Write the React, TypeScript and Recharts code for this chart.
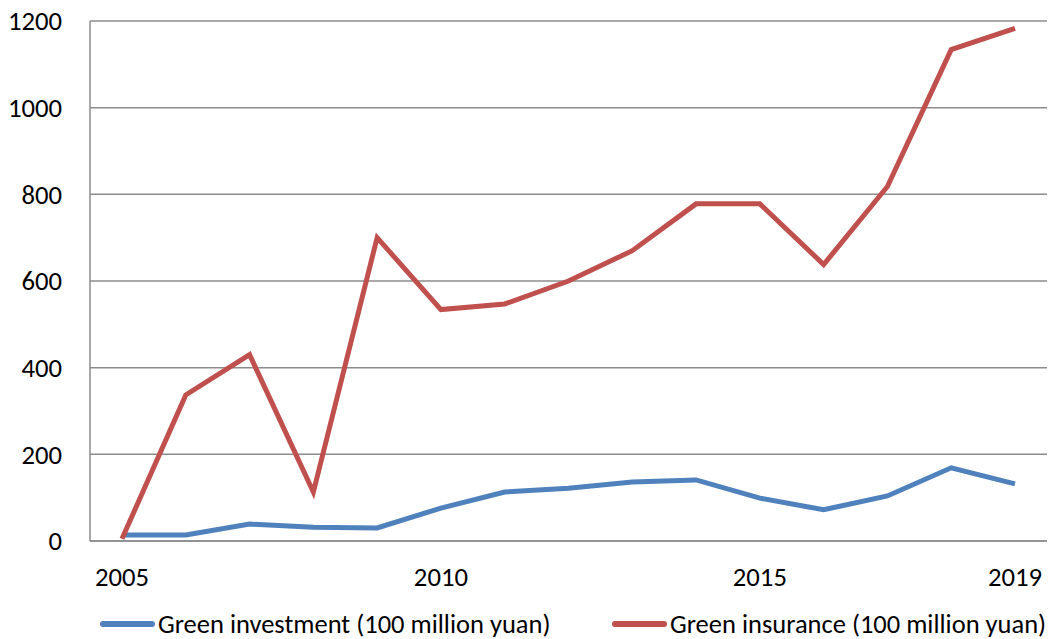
import { LineChart, Line, XAxis, YAxis, CartesianGrid } from "recharts"

const years = [2005, 2006, 2007, 2008, 2009, 2010, 2011, 2012, 2013, 2014, 2015, 2016, 2017, 2018, 2019]
const investment = [14, 14, 39, 32, 30, 76, 113, 122, 136, 141, 99, 72, 104, 169, 132]
const insurance = [5, 337, 430, 113, 700, 534, 547, 600, 670, 778, 778, 638, 818, 1134, 1183]
const yTicks = [0, 200, 400, 600, 800, 1000, 1200]
const shownYears = [2005, 2010, 2015, 2019]

const data = years.map((y, i) => ({ year: y, inv: investment[i], ins: insurance[i] }))

const series = [
  { key: "inv", name: "Green investment (100 million yuan)", color: "#4F81BD", legendX: 100 },
  { key: "ins", name: "Green insurance (100 million yuan)", color: "#C0504D", legendX: 612 },
]

const font = "Carlito, Lato, 'Open Sans', sans-serif"

export default function App() {
  return (
    <div style={{ position: "absolute", left: 0, top: 0, width: 1051, height: 639, background: "#fff" }}>
      <LineChart width={1051} height={639} data={data} margin={{ top: 21, right: 4, bottom: 68, left: 0 }}>
        <CartesianGrid vertical={false} stroke="#8c8c8c" strokeWidth={1.5} />
        <XAxis
          dataKey="year"
          interval={0}
          height={30}
          padding={{ left: 32, right: 32 }}
          tickLine={false}
          axisLine={{ stroke: "#8c8c8c", strokeWidth: 1.5 }}
          tickMargin={20}
          tick={{ fill: "#000", fontSize: 26.7, fontFamily: font }}
          tickFormatter={(v) => (shownYears.includes(Number(v)) ? String(v) : "")}
        />
        <YAxis
          width={90}
          domain={[0, 1200]}
          ticks={yTicks}
          tickLine={false}
          axisLine={{ stroke: "#8c8c8c", strokeWidth: 1.5 }}
          tickMargin={22}
          tick={{ fill: "#000", fontSize: 26.7, fontFamily: font }}
        />
        {series.map((s) => (
          <Line key={s.key} dataKey={s.key} name={s.name} stroke={s.color} strokeWidth={5} dot={false} isAnimationActive={false} />
        ))}
      </LineChart>
      {series.map((s) => (
        <div
          key={s.key}
          style={{
            position: "absolute",
            left: s.legendX,
            top: 610,
            height: 28,
            display: "flex",
            alignItems: "center",
            whiteSpace: "nowrap",
            fontFamily: font,
            fontSize: 26.5,
            lineHeight: "28px",
            color: "#000",
          }}
        >
          <span style={{ display: "inline-block", width: 55, height: 6, borderRadius: 3, background: s.color, marginRight: 3 }} />
          <span>{s.name}</span>
        </div>
      ))}
    </div>
  )
}
